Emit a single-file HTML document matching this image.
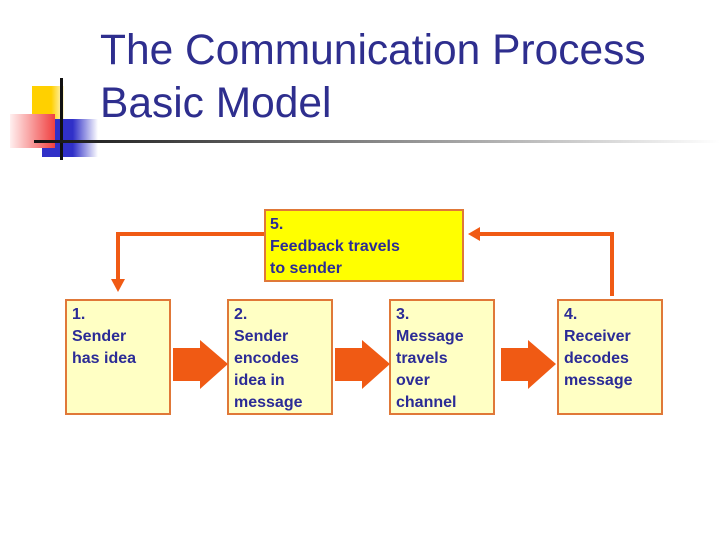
<!DOCTYPE html>
<html><head><style>
body{margin:0;width:720px;height:540px;background:#fff;position:relative;overflow:hidden;font-family:"Liberation Sans",sans-serif}
.t{position:absolute;left:100px;color:#2e2e8e;font-size:42.5px;line-height:46px}
.b{position:absolute;box-sizing:border-box;border:2px solid #e07838;background:#ffffc4;color:#2b2b96;font-weight:bold;font-size:16px;line-height:22px;padding:3px 5px}
</style></head><body>
<div style="position:absolute;left:32px;top:86px;width:32px;height:34px;background:linear-gradient(90deg,#ffd000 60%,#fff8d0)"></div>
<div style="position:absolute;left:42px;top:119px;width:56px;height:38px;background:linear-gradient(90deg,#3030c8 55%,#fff)"></div>
<div style="position:absolute;left:10px;top:114px;width:45px;height:34px;background:linear-gradient(90deg,#fff0f0,#f04040)"></div>
<div style="position:absolute;left:60px;top:78px;width:3px;height:82px;background:#111"></div>
<div style="position:absolute;left:34px;top:140px;width:686px;height:3px;background:linear-gradient(90deg,#111,#888 50%,#fff)"></div>
<div class="t" style="top:28px">The Communication Process</div>
<div class="t" style="top:81px">Basic Model</div>
<div class="b" style="left:264px;top:209px;width:200px;height:73px;background:#ffff00;padding:3px 4px">5.<br>Feedback travels<br>to sender</div>
<div class="b" style="left:65px;top:299px;width:106px;height:116px">1.<br>Sender<br>has idea</div>
<div class="b" style="left:227px;top:299px;width:106px;height:116px">2.<br>Sender<br>encodes<br>idea in<br>message</div>
<div class="b" style="left:389px;top:299px;width:106px;height:116px">3.<br>Message<br>travels<br>over<br>channel</div>
<div class="b" style="left:557px;top:299px;width:106px;height:116px">4.<br>Receiver<br>decodes<br>message</div>
<svg width="720" height="540" style="position:absolute;left:0;top:0">
<g fill="#f05a14">
<polygon points="173,348 200,348 200,340 228,364 200,389 200,381 173,381"/>
<polygon points="335,348 362,348 362,340 390,364 362,389 362,381 335,381"/>
<polygon points="501,348 528,348 528,340 556,364 528,389 528,381 501,381"/>
</g>
<g stroke="#f05a14" stroke-width="4" fill="none">
<polyline points="264,234 118,234 118,282"/>
<polyline points="612,296 612,234 476,234"/>
</g>
<g fill="#f05a14">
<polygon points="111,279 125,279 118,292"/>
<polygon points="468,234 480,227 480,241"/>
</g>
</svg>
</body></html>
